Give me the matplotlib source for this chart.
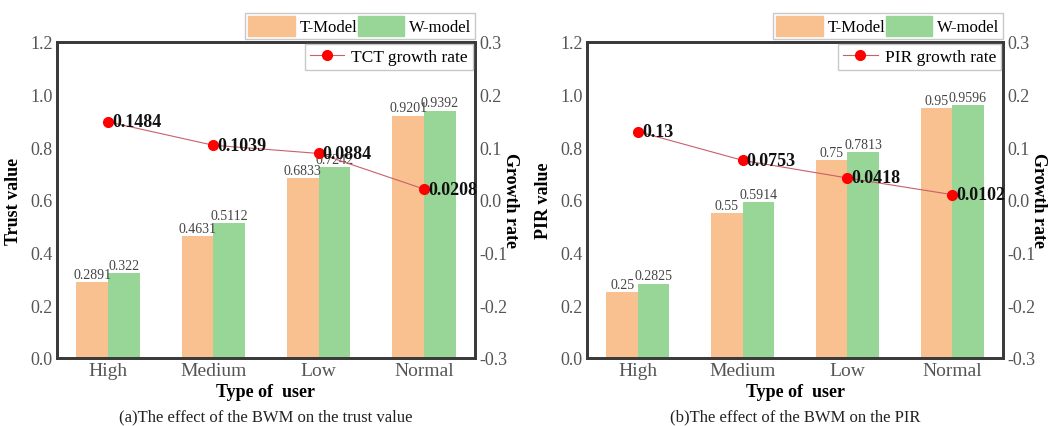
import matplotlib.pyplot as plt
from matplotlib.patches import Patch
from matplotlib.lines import Line2D

plt.rcParams['font.family'] = ['Liberation Serif', 'DejaVu Serif']

user_types = ["High", "Medium", "Low", "Normal"]

trust_t = [0.2891, 0.4631, 0.6833, 0.9201]
trust_w = [0.322, 0.5112, 0.7242, 0.9392]
tct_growth = [0.1484, 0.1039, 0.0884, 0.0208]

pir_t = [0.25, 0.55, 0.75, 0.95]
pir_w = [0.2825, 0.5914, 0.7813, 0.9596]
pir_growth = [0.13, 0.0753, 0.0418, 0.0102]

orange = "#f9c190"
green = "#98d698"
spine_col = "#3a3a3a"
tick_col = "#555555"


def draw_panel(fig, rect, t_vals, w_vals, growth, ylabel, line_label, caption):
    ax = fig.add_axes(rect)
    x = range(len(user_types))
    w = 0.3
    bt = ax.bar([i - w / 2 for i in x], t_vals, w, color=orange)
    bw = ax.bar([i + w / 2 for i in x], w_vals, w, color=green)
    for bars, vals in ((bt, t_vals), (bw, w_vals)):
        for b, v in zip(bars, vals):
            ax.text(b.get_x() + b.get_width() / 2, v + 0.005, str(v),
                    ha="center", va="bottom", fontsize=10, color="#444444")
    ax.set_xlim(-0.485, 3.485)
    ax.set_ylim(0, 1.2)
    ax.set_yticks([0.0, 0.2, 0.4, 0.6, 0.8, 1.0, 1.2])
    ax.set_yticklabels(["%.1f" % v for v in [0.0, 0.2, 0.4, 0.6, 0.8, 1.0, 1.2]])
    ax.set_xticks(list(x))
    ax.set_xticklabels(user_types)
    ax.tick_params(axis="y", length=0, colors=tick_col, labelsize=13, pad=3)
    ax.tick_params(axis="x", length=0, colors=tick_col, labelsize=14, pad=3)
    ax.set_ylabel(ylabel, fontsize=13, fontweight="bold", labelpad=6)
    ax.set_xlabel("Type of  user", fontsize=13, fontweight="bold", labelpad=3)
    for s in ax.spines.values():
        s.set_color(spine_col)
        s.set_linewidth(2)

    ax2 = ax.twinx()
    ax2.plot(list(x), growth, color="#c8606a", linewidth=0.8,
             marker="o", markersize=7, markerfacecolor="red", markeredgecolor="red")
    for i, g in enumerate(growth):
        ax2.text(i + 0.04, g, str(g), ha="left", va="center",
                 fontsize=13, fontweight="bold", color="#111111")
    ax2.set_ylim(-0.3, 0.3)
    ax2.set_yticks([-0.3, -0.2, -0.1, 0.0, 0.1, 0.2, 0.3])
    ax2.set_yticklabels(["%.1f" % v for v in [-0.3, -0.2, -0.1, 0.0, 0.1, 0.2, 0.3]])
    ax2.tick_params(axis="y", length=0, colors=tick_col, labelsize=13, pad=3)
    ax2.set_ylabel("Growth rate", fontsize=13, fontweight="bold", rotation=270, labelpad=8)
    for s in ax2.spines.values():
        s.set_color(spine_col)
        s.set_linewidth(2)

    leg1 = ax2.legend([Patch(color=orange), Patch(color=green)], ["T-Model", "W-model"],
                      ncol=2, loc="lower right", bbox_to_anchor=(1.0, 1.01),
                      fontsize=12, frameon=True, fancybox=False, handlelength=2.8,
                      handleheight=1.4, columnspacing=0.0, handletextpad=0.3,
                      borderpad=0.2, borderaxespad=0)
    leg1.get_frame().set_edgecolor("#bbbbbb")
    ax2.add_artist(leg1)
    leg2 = ax2.legend([Line2D([], [], color="#c8606a", linewidth=0.8, marker="o",
                              markersize=7, markerfacecolor="red", markeredgecolor="red")],
                      [line_label], loc="upper right", fontsize=12.5, frameon=True,
                      fancybox=False, borderpad=0.3, borderaxespad=0.1,
                      handlelength=2.0, handletextpad=0.4)
    leg2.get_frame().set_edgecolor("#bbbbbb")

    cx = rect[0] + rect[2] / 2
    fig.text(cx, 10 / 427, caption, ha="center", va="center", fontsize=12, color="#222222")
    return ax


fig = plt.figure(figsize=(10.64, 4.27), dpi=100)
draw_panel(fig, [57 / 1064, 68 / 427, 418 / 1064, 316 / 427], trust_t, trust_w, tct_growth,
           "Trust value", "TCT growth rate", "(a)The effect of the BWM on the trust value")
draw_panel(fig, [587 / 1064, 68 / 427, 416 / 1064, 316 / 427], pir_t, pir_w, pir_growth,
           "PIR value", "PIR growth rate", "(b)The effect of the BWM on the PIR")
fig.savefig("out.png", dpi=100)
